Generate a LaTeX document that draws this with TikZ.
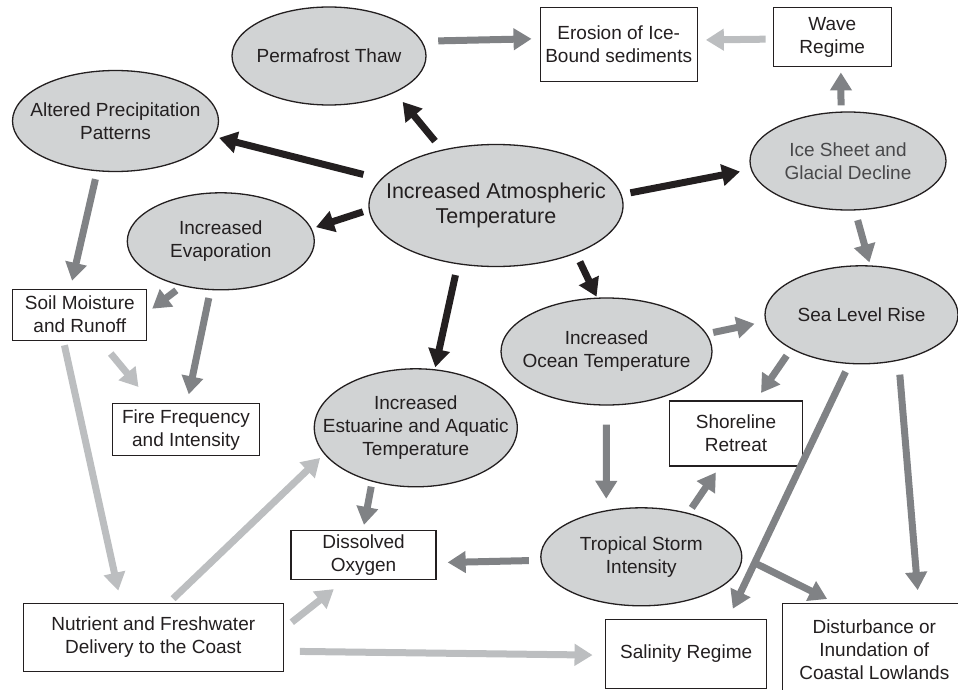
\documentclass[tikz,border=0pt]{standalone}
\usepackage{fontspec}
\setmainfont{Liberation Sans}
\definecolor{inkblack}{RGB}{35, 31, 32}
\definecolor{darkarrow}{RGB}{128, 130, 133}
\definecolor{lightarrow}{RGB}{188, 190, 192}
\definecolor{bubblefill}{RGB}{209, 211, 212}
\definecolor{softtext}{RGB}{72, 72, 74}
\usetikzlibrary{shapes.geometric, arrows.meta}

\begin{document}
\begin{tikzpicture}[x=1pt, y=-1pt,
  bubble/.style={ellipse, draw=inkblack, line width=1.3pt, fill=bubblefill, inner xsep=-25pt, inner ysep=0pt, align=center, text=inkblack, font=\fontsize{19}{23}\selectfont},
  factbox/.style={rectangle, draw=inkblack, line width=1.3pt, fill=white, inner sep=0pt, align=center, text=inkblack, font=\fontsize{19}{23}\selectfont},
  link/.style={line width=7pt, -{Triangle[width=21pt, length=18pt]}},
  blk/.style={link, draw=inkblack},
  dgr/.style={link, draw=darkarrow},
  lgr/.style={link, draw=lightarrow}]
  \useasboundingbox (0, 0) rectangle (958, 690);

  % Ellipses
  \node[bubble, minimum width=254pt, minimum height=122pt, font=\fontsize{21.5}{25}\selectfont] (atm) at (496, 205.5) {Increased Atmospheric\\Temperature};
  \node[bubble, minimum width=194pt, minimum height=98pt] (perm) at (329, 56) {Permafrost Thaw};
  \node[bubble, minimum width=206pt, minimum height=101pt] (prec) at (115.5, 121) {Altered Precipitation\\Patterns};
  \node[bubble, minimum width=187pt, minimum height=97pt] (evap) at (220.8, 241.3) {Increased\\Evaporation};
  \node[bubble, minimum width=196pt, minimum height=98pt, text=softtext] (ice) at (848, 161) {Ice Sheet and\\Glacial Decline};
  \node[bubble, minimum width=193pt, minimum height=98pt] (sea) at (861.5, 314.8) {Sea Level Rise};
  \node[bubble, minimum width=211pt, minimum height=107pt] (ocean) at (606.5, 351.5) {Increased\\Ocean Temperature};
  \node[bubble, minimum width=203pt, minimum height=118pt] (estu) at (415.8, 427.8) {Increased\\Estuarine and Aquatic\\Temperature};
  \node[bubble, minimum width=201pt, minimum height=98pt] (storm) at (641.3, 556.8) {Tropical Storm\\Intensity};

  % Boxes
  \node[factbox, minimum width=157pt, minimum height=74pt] (eros) at (618.7, 44.2) {Erosion of Ice-\\Bound sediments};
  \node[factbox, minimum width=118pt, minimum height=59pt] (wave) at (832.2, 37) {Wave\\Regime};
  \node[factbox, minimum width=134pt, minimum height=51pt] (soil) at (79.8, 314.7) {Soil Moisture\\and Runoff};
  \node[factbox, minimum width=147pt, minimum height=52pt] (fire) at (186, 429.8) {Fire Frequency\\and Intensity};
  \node[factbox, minimum width=145pt, minimum height=49pt] (oxy) at (363.5, 555) {Dissolved\\Oxygen};
  \node[factbox, minimum width=260pt, minimum height=68pt] (nutr) at (153.3, 637.5) {Nutrient and Freshwater\\Delivery to the Coast};
  \node[factbox, minimum width=133pt, minimum height=65pt] (shore) at (736, 433.5) {Shoreline\\Retreat};
  \node[factbox, minimum width=161pt, minimum height=69pt] (sal) at (686.2, 653.8) {Salinity Regime};
  \node[factbox, minimum width=183pt, minimum height=94pt] (dist) at (874.3, 650.2) {Disturbance or\\Inundation of\\Coastal Lowlands};

  % Direct effects of warming
  \draw[blk, shorten <=11pt, shorten >=12pt] (atm.134) -- (perm.-29);
  \draw[blk, shorten <=18pt, shorten >=5pt] (atm.167.5) -- (prec.-9);
  \draw[blk, shorten <=6pt, shorten >=4.5pt] (atm.182) -- (evap.8.6);
  \draw[blk, shorten <=11pt, shorten >=2pt] (atm.-123) -- (estu.72);
  \draw[blk, shorten <=9pt, shorten >=1pt] (atm.-31.4) -- (ocean.100);
  \draw[blk, shorten <=9pt, shorten >=11pt] (atm.5.3) -- (ice.185);

  % Secondary effects
  \draw[dgr, shorten <=16pt, shorten >=8pt] (perm.9.5) -- (eros.176);
  \draw[dgr, shorten <=6pt, shorten >=5.3pt] (ice.98) -- (wave.-74);
  \draw[dgr, shorten <=10pt, shorten >=3pt] (ice.-82) -- (sea.80);
  \draw[dgr, shorten <=6.5pt, shorten >=11pt] (ocean.10.5) -- (sea.184);
  \draw[dgr, shorten <=8pt, shorten >=8pt] (prec.-110) -- (soil.110);
  \draw[dgr, shorten <=7pt, shorten >=6pt] (evap.-131) -- (soil.2);
  \draw[dgr, shorten <=8pt, shorten >=9pt] (evap.-102) -- (fire.88);
  \draw[dgr, shorten <=5pt, shorten >=5pt] (estu.-129) -- (oxy.91);
  \draw[dgr, shorten <=11.5pt, shorten >=11pt] (storm.182) -- (oxy.-6);
  \draw[dgr, shorten <=19pt, shorten >=11.5pt] (ocean.-90) -- (storm.127);
  \draw[dgr, shorten <=6pt, shorten >=7pt] (storm.43) -- (shore.-116);
  \draw[dgr, shorten <=8pt, shorten >=9pt] (sea.206) -- (shore.59);
  \draw[dgr, shorten <=8.5pt, shorten >=11pt] (sea.-104) -- (sal.40);
  \draw[dgr, shorten <=11pt, shorten >=8pt] (storm.0) -- (dist.130);
  \draw[dgr, shorten <=14pt, shorten >=12.5pt] (sea.-51) -- (dist.47);

  % Freshwater and wave links
  \draw[lgr, shorten <=7pt, shorten >=8pt] (wave.182) -- (eros.3.4);
  \draw[lgr, shorten <=16.5pt, shorten >=21pt] (soil.-52) -- (fire.142);
  \draw[lgr, shorten <=4.5pt, shorten >=12.5pt] (soil.-122) -- (nutr.133);
  \draw[lgr, shorten <=6pt, shorten >=5.5pt] (nutr.66) -- (estu.196);
  \draw[lgr, shorten <=10pt, shorten >=14.5pt] (nutr.4) -- (oxy.-126);
  \draw[lgr, shorten <=16pt, shorten >=12.5pt] (nutr.-6.5) -- (sal.181.4);
\end{tikzpicture}
\end{document}
